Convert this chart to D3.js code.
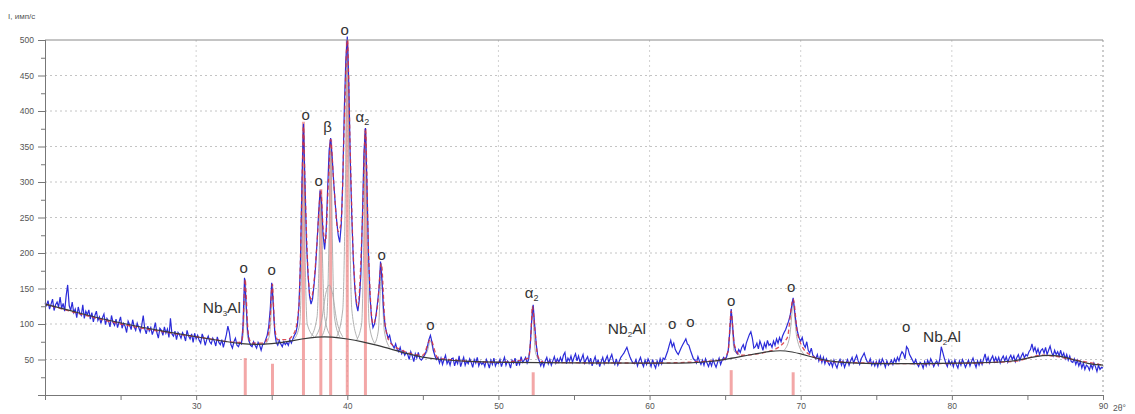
<!DOCTYPE html>
<html>
<head>
<meta charset="utf-8">
<script src="https://cdn.jsdelivr.net/npm/d3@7"></script>
<style>
  body { margin: 0; background: #fff; }
  text { font-family: "Liberation Sans", Arial, sans-serif; }
</style>
</head>
<body>
<script>
"use strict";
// measured diffractogram, 0.1 deg step starting at 20 deg (one row per degree)
const startAngle = 20;
const angleStep = 0.1;
const intensityRows = [
  [130,126,133,121,128,135,119,127,131,124],
  [138,122,129,118,140,155,126,119,131,116],
  [121,109,124,115,112,127,108,118,113,120],
  [107,116,103,112,118,105,110,101,109,114],
  [99,108,104,96,112,102,98,107,95,103],
  [110,94,101,97,88,104,99,92,106,96],
  [91,101,95,89,98,112,93,86,97,90],
  [95,85,92,102,88,80,94,91,84,96],
  [87,93,81,108,86,83,90,78,88,85],
  [80,88,84,76,91,83,79,86,74,87],
  [79,84,77,73,86,80,70,78,83,75],
  [72,80,76,69,82,74,71,78,67,76],
  [85,97,88,71,66,75,80,70,68,74],
  [72,98,165,130,92,76,70,68,75,70],
  [66,74,70,63,71,72,78,84,96,120],
  [158,128,88,74,70,77,72,68,75,71],
  [74,70,78,73,79,84,88,98,125,185],
  [300,382,300,215,170,140,128,135,155,180],
  [215,255,288,270,225,205,230,290,345,362],
  [335,300,270,245,225,215,240,300,400,470],
  [505,440,330,250,190,150,128,118,135,170],
  [250,340,376,300,200,140,110,95,100,112],
  [130,150,188,160,120,98,88,80,84,74],
  [70,66,72,64,61,67,58,62,56,60],
  [57,50,61,55,47,58,52,60,51,49],
  [52,56,60,68,78,84,75,62,55,50],
  [53,45,52,43,50,56,44,49,42,51],
  [52,41,49,44,55,40,47,53,42,48],
  [44,51,46,39,50,45,53,41,47,43],
  [46,40,50,45,38,49,43,52,41,46],
  [44,50,40,47,53,42,48,45,38,49],
  [45,52,41,48,43,54,46,49,53,45],
  [50,68,105,127,98,72,55,48,41,47],
  [40,48,53,44,50,42,48,54,45,51],
  [46,53,47,56,60,44,52,48,55,46],
  [53,58,48,55,46,51,57,45,50,54],
  [45,52,41,48,54,43,50,40,47,53],
  [44,50,55,46,52,57,48,43,51,42],
  [48,53,56,59,63,67,60,54,49,45],
  [44,50,41,48,53,45,40,49,43,51],
  [46,40,50,43,38,48,42,51,44,52],
  [50,56,62,70,77,68,73,64,60,57],
  [62,67,71,75,79,72,70,63,57,51],
  [49,45,54,48,43,49,42,51,45,40],
  [47,41,50,44,39,46,52,43,49,53],
  [50,54,62,88,121,96,70,62,58,64],
  [60,67,71,63,73,79,85,89,80,66],
  [68,73,65,76,70,63,73,67,77,70],
  [72,67,76,70,79,73,81,75,83,88],
  [92,98,104,112,125,137,118,100,88,80],
  [76,81,71,67,75,63,59,66,56,54],
  [51,57,48,55,46,53,44,51,46,42],
  [47,40,49,43,38,46,50,42,48,39],
  [45,50,42,48,53,45,51,56,48,43],
  [51,55,59,52,47,45,51,42,47,41],
  [47,40,49,43,51,46,39,48,42,45],
  [49,43,51,46,53,48,56,61,58,51],
  [68,65,57,53,49,44,50,44,40,46],
  [44,38,47,41,49,43,51,46,40,45],
  [48,42,50,68,60,52,45,40,49,43],
  [47,40,49,43,38,48,42,50,45,39],
  [44,49,41,47,52,45,39,48,42,49],
  [43,51,58,47,53,45,51,55,47,53],
  [47,53,45,51,55,48,54,46,52,56],
  [50,55,47,53,57,49,55,59,52,57],
  [55,61,64,72,62,67,59,65,57,63],
  [65,59,67,57,63,69,60,55,63,57],
  [61,55,63,54,59,51,57,49,55,47],
  [46,51,43,49,41,47,38,45,36,42],
  [40,35,43,37,45,40,33,42,36,39],
  [38]
];

// fitted curve, background and single-peak profiles [2theta, I]
const fitPoints = [
  [20,128],[25,100],[30,82],[33.0,74],[33.1,95],[33.2,150],[33.25,163],[33.3,145],[33.4,100],[33.5,80],
  [33.7,73],[34.5,73],[34.8,88],[34.9,110],[35.0,150],[35.05,156],[35.1,135],[35.2,95],[35.4,78],[36.0,78],
  [36.5,88],[36.8,125],[37.0,290],[37.1,378],[37.2,300],[37.4,175],[37.6,135],[37.8,160],[38.0,215],[38.25,288],
  [38.4,235],[38.55,215],[38.75,300],[38.9,360],[39.1,300],[39.4,230],[39.6,245],[39.8,380],[40.0,500],[40.2,340],
  [40.4,195],[40.7,125],[41.0,245],[41.2,372],[41.4,205],[41.7,100],[42.0,125],[42.25,185],[42.5,100],[42.8,75],
  [43.5,64],[45,56],[45.5,78],[46,52],[50,46],[52.0,52],[52.15,85],[52.25,125],[52.4,95],[52.6,55],
  [53,46],[60,45],[64.8,49],[65.2,62],[65.4,118],[65.6,72],[66,56],[68,62],[69.1,80],[69.5,135],
  [69.8,85],[70.5,58],[72,47],[78,44],[84,47],[86,56],[88,50],[90,42]
];
const backgroundPoints = [
  [20,128],[22,117],[24,106],[26,97],[28,89],[30,82],[32,75],[33,72],[34,71],[35,72],[36,75],[37,79],
  [38,82],[39,82],[40,79],[41,75],[42,70],[43,64],[44,58],[45,53],[46,50],[48,47],[50,46],[55,45],
  [60,45],[63,45],[64,47],[65,50],[66,54],[67,58],[68,62],[69,63],[70,58],[71,52],[72,47],[74,44],
  [78,44],[82,45],[84,47],[85,52],[86,56],[87,56],[88,50],[89,44],[90,42]
];
const peakProfiles = [
  [[32.9,72],[33.1,82],[33.18,120],[33.25,163],[33.32,120],[33.4,82],[33.6,72]],
  [[34.6,72],[34.85,84],[34.97,118],[35.05,156],[35.13,118],[35.25,84],[35.5,73]],
  [[36.5,79],[36.85,100],[37.0,210],[37.1,380],[37.2,210],[37.35,100],[37.8,82]],
  [[37.6,82],[38.0,110],[38.15,200],[38.25,285],[38.35,200],[38.5,110],[38.9,83]],
  [[37.9,82],[38.3,105],[38.6,145],[38.8,155],[39.0,145],[39.3,105],[39.7,82]],
  [[38.3,82],[38.65,110],[38.8,230],[38.9,355],[39.0,230],[39.15,110],[39.5,82]],
  [[39.3,82],[39.7,120],[39.88,300],[40.0,500],[40.12,300],[40.3,120],[40.7,78]],
  [[40.6,77],[40.95,100],[41.1,230],[41.2,372],[41.3,230],[41.45,100],[41.8,73]],
  [[41.8,72],[42.05,90],[42.17,140],[42.25,185],[42.33,140],[42.45,90],[42.8,67]],
  [[45.0,53],[45.3,62],[45.5,76],[45.7,62],[46.0,51]],
  [[51.8,46],[52.05,60],[52.17,95],[52.25,125],[52.33,95],[52.45,60],[52.8,46]],
  [[64.9,49],[65.2,62],[65.32,92],[65.4,118],[65.48,92],[65.6,62],[66.0,56]],
  [[68.9,63],[69.25,80],[69.4,110],[69.5,135],[69.6,110],[69.75,80],[70.2,58]]
];

// reference pattern lines
const stickAngles = [33.25, 35.05, 37.1, 38.25, 38.9, 40.0, 41.2, 52.3, 65.4, 69.5];
const stickHeights = [52, 44, 385, 290, 360, 500, 375, 32, 35, 32];

// phase labels [2theta, I, text]
const phaseLabels = [
  [33.15, 179, "o"], [35.0, 176, "o"], [37.25, 395, "o"], [38.1, 302, "o"], [39.83, 515, "o"],
  [42.27, 197, "o"], [45.5, 99, "o"], [61.5, 100, "o"], [62.7, 103, "o"], [65.4, 133, "o"],
  [69.37, 152, "o"], [76.97, 96, "o"], [38.7, 378, "β"]
];
const alphaLabels = [[41.0, 392], [52.2, 144]];
const nbLabels = [[31.7, 123, "3"], [58.5, 93, "2"], [79.35, 82, "2"]];

const xTicks = [30, 40, 50, 60, 70, 80, 90];
const yTicks = [50, 100, 150, 200, 250, 300, 350, 400, 450, 500];

(function(){
    const measurements = { width: 1135, height: 414, left: 45, right: 1103, top: 40, bottom: 395 };

    const svg = d3.select("body").append("svg")
        .attr("width", measurements.width)
        .attr("height", measurements.height);

    const scaleX = d3.scaleLinear().domain([20, 90]).range([measurements.left, measurements.right]);
    const scaleY = d3.scaleLinear().domain([0, 500]).range([measurements.bottom, measurements.top]);

    const measured = [];
    intensityRows.forEach((row, r) => {
        row.forEach((v, i) => measured.push([startAngle + r + i * angleStep, v]));
    });

    drawGrid();
    drawSticks();
    drawCurves();
    drawAxes();
    drawLabels();

    function drawGrid() {
        svg.append("g").selectAll("line")
            .data(yTicks.slice(0, -1))
            .enter().append("line")
            .attr("x1", measurements.left).attr("x2", measurements.right)
            .attr("y1", d => scaleY(d)).attr("y2", d => scaleY(d))
            .attr("stroke", "#c4c4c4").attr("stroke-dasharray", "2,3");
        svg.append("g").selectAll("line")
            .data(xTicks)
            .enter().append("line")
            .attr("x1", d => scaleX(d)).attr("x2", d => scaleX(d))
            .attr("y1", measurements.top).attr("y2", measurements.bottom)
            .attr("stroke", d => d === 90 ? "#999" : "#d2d2d2")
            .attr("stroke-dasharray", "2,3");
    }

    function drawSticks() {
        svg.append("g").selectAll("line")
            .data(stickAngles)
            .enter().append("line")
            .attr("x1", d => scaleX(d)).attr("x2", d => scaleX(d))
            .attr("y1", measurements.bottom)
            .attr("y2", (d, i) => scaleY(stickHeights[i]))
            .attr("stroke", "#ef8a8a").attr("stroke-width", 3).attr("opacity", 0.75);
    }

    function drawCurves() {
        const smooth = d3.line()
            .x(d => scaleX(d[0])).y(d => scaleY(d[1]))
            .curve(d3.curveMonotoneX);
        const raw = d3.line()
            .x(d => scaleX(d[0])).y(d => scaleY(d[1]));

        svg.append("g").selectAll("path")
            .data(peakProfiles)
            .enter().append("path")
            .attr("d", smooth)
            .attr("fill", "none").attr("stroke", "#a8a8a8").attr("stroke-width", 0.9);

        svg.append("path")
            .datum(measured)
            .attr("d", raw)
            .attr("fill", "none").attr("stroke", "#2b2bd9").attr("stroke-width", 1.2);

        svg.append("path")
            .datum(fitPoints)
            .attr("d", smooth)
            .attr("fill", "none").attr("stroke", "#d8323c").attr("stroke-width", 1.3)
            .attr("stroke-dasharray", "4,3").attr("opacity", 0.85);

        svg.append("path")
            .datum(backgroundPoints)
            .attr("d", d3.line().x(d => scaleX(d[0])).y(d => scaleY(d[1])).curve(d3.curveBasis))
            .attr("fill", "none").attr("stroke", "#3a3a3a").attr("stroke-width", 1.2);
    }

    function drawAxes() {
        // top border
        svg.append("line")
            .attr("x1", measurements.left).attr("x2", measurements.right)
            .attr("y1", measurements.top).attr("y2", measurements.top)
            .attr("stroke", "#8a8a8a");

        let yAxis = d3.axisLeft(scaleY).tickValues(yTicks).tickSize(7).tickPadding(4);
        let yMinor = d3.axisLeft(scaleY).tickValues(yTicks.map(d => d - 25)).tickSize(4).tickFormat("");
        let xAxis = d3.axisBottom(scaleX).tickValues(xTicks).tickSize(5).tickPadding(3);
        let xMinor = d3.axisBottom(scaleX).tickValues(xTicks.map(d => d - 5)).tickSize(5).tickFormat("");

        [yAxis, yMinor].forEach(ax => {
            svg.append("g")
                .attr("transform", `translate(${measurements.left},0)`)
                .call(ax).call(styleAxis);
        });
        [xAxis, xMinor].forEach(ax => {
            svg.append("g")
                .attr("transform", `translate(0,${measurements.bottom})`)
                .call(ax).call(styleAxis);
        });

        svg.append("text")
            .attr("x", 8).attr("y", 19)
            .attr("font-size", 8).attr("fill", "#555")
            .text("I, имп/с");
        svg.append("text")
            .attr("x", 1113).attr("y", 411)
            .attr("font-size", 8.5).attr("fill", "#555")
            .text("2θ°");
    }

    function styleAxis(g) {
        g.select(".domain").attr("stroke", "#777");
        g.selectAll(".tick line").attr("stroke", "#777");
        g.selectAll(".tick text")
            .attr("fill", "#555").attr("font-size", 8.5)
            .attr("font-family", "Liberation Sans, Arial, sans-serif");
    }

    function drawLabels() {
        svg.append("g").selectAll("text")
            .data(phaseLabels)
            .enter().append("text")
            .attr("x", d => scaleX(d[0])).attr("y", d => scaleY(d[1]))
            .attr("dy", "0.35em").attr("text-anchor", "middle")
            .attr("font-family", "Liberation Serif, serif").attr("font-size", 15)
            .attr("fill", "#333")
            .text(d => d[2]);

        const alpha = svg.append("g").selectAll("text")
            .data(alphaLabels)
            .enter().append("text")
            .attr("x", d => scaleX(d[0])).attr("y", d => scaleY(d[1]) + 5)
            .attr("text-anchor", "middle")
            .attr("font-family", "Liberation Serif, serif").attr("font-size", 15)
            .attr("fill", "#333");
        alpha.append("tspan").text("α");
        alpha.append("tspan").attr("font-size", 9).attr("dy", 3).text("2");

        const nb = svg.append("g").selectAll("text")
            .data(nbLabels)
            .enter().append("text")
            .attr("x", d => scaleX(d[0])).attr("y", d => scaleY(d[1]) + 5)
            .attr("text-anchor", "middle")
            .attr("font-size", 15.5).attr("fill", "#333");
        nb.append("tspan").text("Nb");
        nb.append("tspan").attr("font-size", 8).attr("dy", 3).text(d => d[2]);
        nb.append("tspan").attr("dy", -3).text("Al");
    }
})();
</script>
</body>
</html>
